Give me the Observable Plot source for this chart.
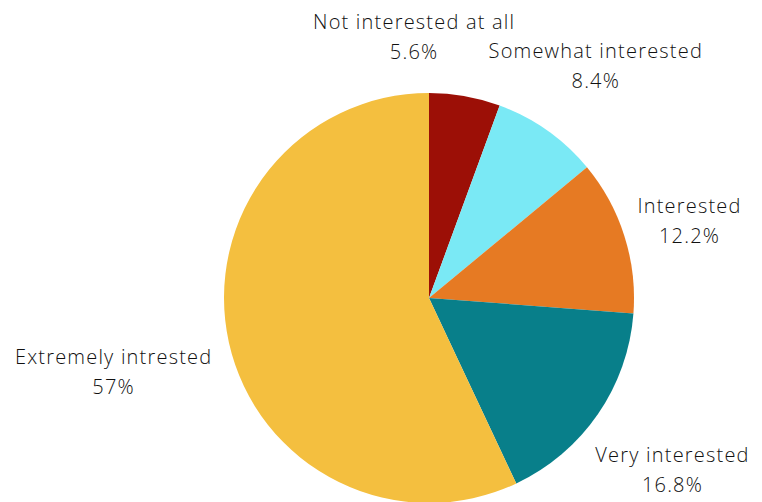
<!DOCTYPE html>
<html>
<head>
<meta charset="utf-8">
<script src="https://cdn.jsdelivr.net/npm/d3@7"></script>
<script src="https://cdn.jsdelivr.net/npm/@observablehq/plot@0.6"></script>
<style>
  html, body { margin: 0; padding: 0; background: #fff; }
  #chart svg { display: block; }
  #chart svg text { letter-spacing: 1.2px; }
</style>
</head>
<body>
<div id="chart"></div>
<script>
const categories = ["Not interested at all", "Somewhat interested", "Interested", "Very interested", "Extremely intrested"];
const values = [5.6, 8.4, 12.2, 16.8, 57];
const valueLabels = ["5.6%", "8.4%", "12.2%", "16.8%", "57%"];
const colors = ["#9c0f06", "#7ae9f5", "#e67a23", "#087f8a", "#f4bf3f"];

// layout (pixels)
const W = 762, H = 502;
const cx = 429, cy = 298, R = 205;
const labelRadius = 255;
const labelNudge = [[-60, -13], [19, -27], [17, -3], [33, 24], [-67, 15]];

const total = d3.sum(values);
let acc = 0;
const slices = categories.map((c, i) => {
  const a0 = acc / total * 2 * Math.PI;
  acc += values[i];
  const a1 = acc / total * 2 * Math.PI;
  const mid = (a0 + a1) / 2;
  return {
    category: c, value: values[i], a0, a1,
    lx: labelRadius * Math.sin(mid) + labelNudge[i][0],
    ly: labelRadius * Math.cos(mid) - labelNudge[i][1],
    label: c + "\n" + valueLabels[i]
  };
});

const color = Plot.scale({color: {domain: categories, range: colors}});

const pieMark = (index, scales, values, dimensions) => {
  const x0 = scales.x(0), y0 = scales.y(0);
  const r = Math.abs(scales.x(R) - scales.x(0));
  const arc = d3.arc().innerRadius(0).outerRadius(r);
  const g = d3.create("svg:g").attr("transform", `translate(${x0},${y0})`);
  g.selectAll("path").data(slices).join("path")
    .attr("d", d => arc({startAngle: d.a0, endAngle: d.a1}))
    .attr("fill", d => color.apply(d.category));
  return g.node();
};

const chart = Plot.plot({
  width: W, height: H,
  margin: 0,
  x: {domain: [-cx, W - cx], range: [0, W], axis: null},
  y: {domain: [cy - H, cy], range: [H, 0], axis: null},
  style: {fontFamily: "'Open Sans', Lato, sans-serif", background: "#fff"},
  marks: [
    pieMark,
    Plot.text(slices, {
      x: "lx", y: "ly", text: "label",
      textAnchor: "middle", lineAnchor: "middle",
      lineHeight: 1.5,
      fontSize: 20, fontWeight: 300, fill: "#111"
    })
  ]
});
document.getElementById("chart").appendChild(chart);
</script>
</body>
</html>
